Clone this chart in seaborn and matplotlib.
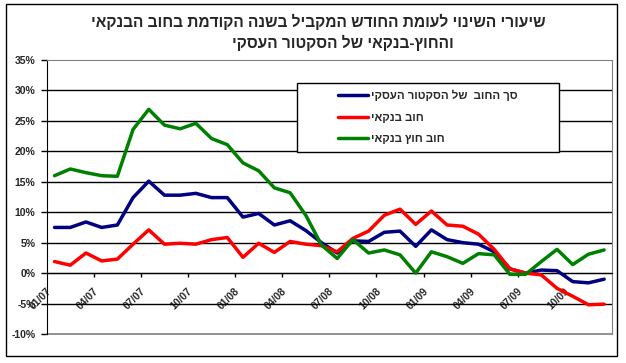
import numpy as np
import pandas as pd
import seaborn as sns
import matplotlib.pyplot as plt
from matplotlib.lines import Line2D
from matplotlib.patches import Rectangle
from matplotlib.transforms import ScaledTranslation

# monthly data, 01/2007 - 12/2009
months = [f"{m:02d}/{y:02d}" for y in (7, 8, 9) for m in range(1, 13)]

total_debt = [7.5, 7.5, 8.4, 7.5, 7.9, 12.4, 15.1, 12.8, 12.8, 13.1, 12.4, 12.4,
              9.2, 9.8, 7.9, 8.6, 7.0, 5.0, 3.3, 5.3, 5.2, 6.7, 6.9, 4.4,
              7.1, 5.5, 5.0, 4.75, 3.5, 0.7, 0.0, 0.5, 0.4, -1.4, -1.6, -1.0]
bank_debt = [1.9, 1.3, 3.3, 2.0, 2.3, 4.75, 7.1, 4.75, 4.9, 4.75, 5.5, 5.85,
             2.6, 4.9, 3.4, 5.2, 4.75, 4.5, 3.5, 5.7, 6.9, 9.5, 10.5, 8.0,
             10.2, 7.9, 7.7, 6.4, 3.9, 0.7, 0.0, -0.3, -2.5, -3.8, -5.2, -5.1]
nonbank_debt = [16.0, 17.1, 16.5, 16.0, 15.9, 23.6, 26.9, 24.3, 23.7, 24.6, 22.1, 21.1,
                18.1, 16.8, 14.0, 13.2, 9.5, 4.6, 2.4, 5.5, 3.3, 3.8, 3.0, 0.0,
                3.5, 2.7, 1.6, 3.2, 3.0, -0.2, -0.2, 1.9, 3.9, 1.4, 3.1, 3.8]

series_names = ["סך החוב  של הסקטור העסקי", "חוב בנקאי", "חוב חוץ בנקאי"]
series_colors = ["#000080", "#FF0000", "#008000"]
title_1 = "שיעורי השינוי לעומת החודש המקביל בשנה הקודמת בחוב הבנקאי"
title_2 = "והחוץ-בנקאי של הסקטור העסקי"
y_ticks = [-10, -5, 0, 5, 10, 15, 20, 25, 30, 35]


def rtl(s):
    # matplotlib has no bidi support, so flip Hebrew strings by hand
    return s[::-1]


df = pd.DataFrame({
    "idx": list(range(len(months))) * 3,
    "value": total_debt + bank_debt + nonbank_debt,
    "series": [series_names[0]] * 36 + [series_names[1]] * 36 + [series_names[2]] * 36,
})

sns.set_style("white")
plt.rcParams['font.family'] = ['Liberation Sans', 'DejaVu Sans']

fig = plt.figure(figsize=(6.26, 3.63), dpi=100)
ax = fig.add_axes([0.0746, 0.0799, 0.9030, 0.7548])

sns.lineplot(data=df, x="idx", y="value", hue="series", hue_order=series_names,
             palette=dict(zip(series_names, series_colors)), linewidth=2.5,
             legend=False, sort=False, ax=ax, zorder=3)

ax.set_xlim(-0.5, 35.5)
ax.set_ylim(-10, 35)
ax.set_xlabel("")
ax.set_ylabel("")

# y axis
ax.set_yticks(y_ticks)
ax.set_yticklabels([f"{v}%" for v in y_ticks], fontsize=7.5, fontweight="bold")
ax.tick_params(axis="y", direction="out", length=4, width=1, color="black", pad=4, left=True)
for v in y_ticks[1:-1]:
    ax.axhline(v, color="black", lw=1, zorder=1)

# x axis crosses at 0%
ax.spines["bottom"].set_position(("data", 0))
ax.spines["bottom"].set_color("black")
ax.spines["left"].set_color("black")
for s in ("top", "right"):
    ax.spines[s].set_color("#808080")
ax.axhline(-10, color="#808080", lw=1.2, clip_on=False, zorder=1)

label_pos = list(range(0, 36, 3))
ax.set_xticks(label_pos)
ax.set_xticklabels([months[i] for i in label_pos], fontsize=7.5, fontweight="bold",
                   rotation=45, ha="right", va="center", rotation_mode="anchor")
ax.tick_params(axis="x", which="major", length=0, pad=12)
ax.set_xticks(np.arange(2.5, 35, 3), minor=True)
ax.tick_params(axis="x", which="minor", direction="out", length=3, width=1, color="black", bottom=True)
shift = ScaledTranslation(-5 / 100, 0, fig.dpi_scale_trans)
for lab in ax.get_xticklabels():
    lab.set_transform(lab.get_transform() + shift)

# legend box
ax.add_patch(Rectangle((0.442, 0.664), 0.464, 0.251, transform=ax.transAxes,
                       facecolor="white", edgecolor="black", lw=1, zorder=4))
handles = [Line2D([], [], color=c, lw=2.5) for c in series_colors]
ax.legend(handles, [rtl(n) for n in series_names], loc="center left",
          bbox_to_anchor=(0.506, 0.792), frameon=False, borderpad=0,
          handlelength=2.6, handletextpad=0.3, labelspacing=1.0,
          prop={"size": 8.2, "weight": "bold"}).set_zorder(5)

# titles
fig.text(0.509, 1 - 22 / 363, rtl(title_1), ha="center", va="center",
         fontsize=11.2, fontweight="bold")
fig.text(0.548, 1 - 43 / 363, rtl(title_2), ha="center", va="center",
         fontsize=11.2, fontweight="bold")

# outer chart border
fig.patches.append(Rectangle((6 / 626, 1 - 356 / 363), 611 / 626, 352 / 363,
                             transform=fig.transFigure, fill=False,
                             edgecolor="black", lw=1))

fig.savefig("out.png", dpi=100)
